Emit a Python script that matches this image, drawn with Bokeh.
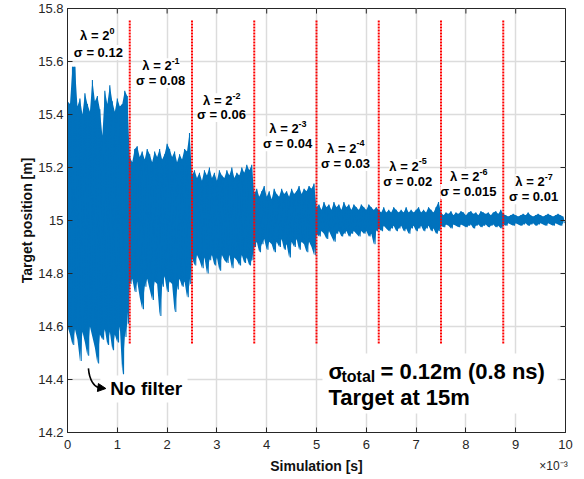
import numpy as np
from bokeh.plotting import figure
from bokeh.models import Label, BoxAnnotation, Arrow, NormalHead, FixedTicker, LinearAxis
from bokeh.embed import file_html
from bokeh.resources import INLINE

# ---------------- data ----------------
sample_step = 0.05  # x10^-3 s between envelope samples
seg_hi = [
    [15.45, 15.44, 15.58, 15.58, 15.43, 15.46, 15.40, 15.48, 15.44, 15.41, 15.53, 15.45, 15.47,
     15.42, 15.32, 15.49, 15.44, 15.51, 15.45, 15.41, 15.46, 15.43, 15.44, 15.49, 15.47],
    [15.24, 15.22, 15.27, 15.28, 15.24, 15.26, 15.23, 15.27, 15.25, 15.22, 15.26, 15.24, 15.27,
     15.23, 15.25, 15.29, 15.27, 15.24, 15.26, 15.22, 15.25, 15.23, 15.27, 15.26, 15.33],
    [15.17, 15.19, 15.16, 15.18, 15.15, 15.19, 15.17, 15.20, 15.16, 15.18, 15.15, 15.19, 15.17,
     15.16, 15.19, 15.17, 15.20, 15.16, 15.18, 15.17, 15.20, 15.18, 15.21, 15.19, 15.21],
    [15.10, 15.12, 15.09, 15.11, 15.13, 15.09, 15.11, 15.08, 15.12, 15.10, 15.09, 15.12, 15.10,
     15.11, 15.09, 15.12, 15.10, 15.11, 15.13, 15.10, 15.12, 15.11, 15.13, 15.12, 15.14],
    [15.05, 15.06, 15.04, 15.07, 15.05, 15.06, 15.04, 15.07, 15.05, 15.06, 15.04, 15.07, 15.05,
     15.06, 15.04, 15.06, 15.05, 15.04, 15.06, 15.05, 15.04, 15.06, 15.05, 15.04, 15.05],
    [15.04, 15.03, 15.05, 15.03, 15.04, 15.03, 15.05, 15.04, 15.03, 15.04, 15.03, 15.05, 15.03,
     15.04, 15.03, 15.04, 15.05, 15.03, 15.04, 15.03, 15.05, 15.04, 15.03, 15.05, 15.07],
    [15.03, 15.02, 15.03, 15.025, 15.035, 15.02, 15.03, 15.025, 15.035, 15.03, 15.02, 15.03, 15.035,
     15.025, 15.03, 15.02, 15.035, 15.03, 15.025, 15.03, 15.02, 15.03, 15.035, 15.025, 15.04],
    [15.025, 15.02, 15.015, 15.02, 15.025, 15.02, 15.015, 15.02, 15.025, 15.02, 15.03, 15.02, 15.015,
     15.02, 15.025, 15.02, 15.015, 15.02, 15.025, 15.02, 15.015, 15.02, 15.025, 15.02, 15.015],
]
seg_lo = [
    [14.60, 14.57, 14.53, 14.59, 14.55, 14.47, 14.58, 14.54, 14.49, 14.60, 14.56, 14.52, 14.46,
     14.57, 14.55, 14.59, 14.53, 14.58, 14.51, 14.57, 14.54, 14.60, 14.42, 14.56, 14.61],
    [14.76, 14.78, 14.73, 14.77, 14.71, 14.665, 14.75, 14.78, 14.74, 14.70, 14.77, 14.76, 14.64,
     14.75, 14.79, 14.73, 14.77, 14.76, 14.655, 14.74, 14.78, 14.75, 14.77, 14.71, 14.76],
    [14.86, 14.83, 14.87, 14.85, 14.82, 14.86, 14.80, 14.85, 14.87, 14.83, 14.86, 14.81, 14.87,
     14.85, 14.84, 14.87, 14.82, 14.86, 14.85, 14.83, 14.87, 14.84, 14.86, 14.83, 14.85],
    [14.90, 14.92, 14.88, 14.91, 14.93, 14.89, 14.92, 14.91, 14.88, 14.92, 14.90, 14.93, 14.89,
     14.91, 14.86, 14.92, 14.90, 14.93, 14.89, 14.92, 14.91, 14.88, 14.92, 14.90, 14.87],
    [14.95, 14.94, 14.96, 14.95, 14.93, 14.96, 14.94, 14.92, 14.95, 14.96, 14.94, 14.95, 14.96,
     14.94, 14.95, 14.96, 14.95, 14.94, 14.96, 14.95, 14.96, 14.94, 14.95, 14.91, 14.96],
    [14.97, 14.96, 14.98, 14.97, 14.96, 14.97, 14.98, 14.96, 14.97, 14.98, 14.96, 14.97, 14.95,
     14.97, 14.98, 14.96, 14.97, 14.98, 14.96, 14.97, 14.98, 14.96, 14.97, 14.95, 14.96],
    [14.98, 14.975, 14.985, 14.98, 14.97, 14.985, 14.98, 14.975, 14.985, 14.98, 14.975, 14.98, 14.985,
     14.97, 14.98, 14.985, 14.975, 14.98, 14.985, 14.975, 14.98, 14.985, 14.975, 14.98, 14.97],
    [14.985, 14.98, 14.99, 14.985, 14.98, 14.99, 14.985, 14.98, 14.985, 14.99, 14.98, 14.985, 14.99,
     14.98, 14.985, 14.99, 14.985, 14.98, 14.99, 14.985, 14.98, 14.99, 14.985, 14.98, 14.99],
]

filter_bounds = [1.25, 2.5, 3.75, 5.0, 6.25, 7.5, 8.75]
bound_bottom = 14.536
bound_top = 15.755

lambda_exp = ["0", "-1", "-2", "-3", "-4", "-5", "-6", "-7"]
sigma_vals = ["0.12", "0.08", "0.06", "0.04", "0.03", "0.02", "0.015", "0.01"]
label_x = [0.62, 1.87, 3.09, 4.42, 5.58, 6.83, 8.05, 9.36]
lambda_y = [15.697, 15.584, 15.452, 15.347, 15.272, 15.204, 15.166, 15.147]
sigma_y = [15.634, 15.528, 15.400, 15.290, 15.215, 15.147, 15.109, 15.090]

x_ticks = [0, 1, 2, 3, 4, 5, 6, 7, 8, 9, 10]
y_ticks = [14.2, 14.4, 14.6, 14.8, 15.0, 15.2, 15.4, 15.6, 15.8]
y_tick_labels = ["14.2", "14.4", "14.6", "14.8", "15", "15.2", "15.4", "15.6", "15.8"]
x_multiplier = "×10⁻³"
x_multiplier_pos = 9.76

# annotation geometry (data coords)
nofilter_box = dict(left=0.66, right=2.41, bottom=14.313, top=14.415)
nofilter_pos = (0.86, 14.366)
arrow_curve = dict(x0=0.42, y0=14.442, cx0=0.44, cy0=14.396, cx1=0.54, cy1=14.374, x1=0.62, y1=14.370)
arrow_head = dict(x_start=0.60, y_start=14.370, x_end=0.77, y_end=14.366)
total_box = dict(left=5.12, right=9.84, bottom=14.272, top=14.498)
total_pos = (5.24, 14.430, 14.332)

# ---------------- figure ----------------
FONT = "Liberation Sans"
AX = "#262626"
BLUE = "#0072BD"
X0, X1, Y0, Y1 = 0, 10, 14.2, 15.8
TICK_DX, TICK_DY = 0.1, 0.019  # 5 px inward ticks on the right / top frame edges

p = figure(width=584, height=479, x_range=(X0, X1), y_range=(Y0, Y1),
           output_backend="svg", toolbar_location=None,
           min_border_left=67, min_border_right=19, min_border_top=8, min_border_bottom=47)
p.background_fill_color = "white"
p.border_fill_color = "white"
p.outline_line_color = AX
p.outline_line_width = 1

# noisy signal: solid band plus trace oscillating between the read extremes
hi = np.concatenate([np.array(s) for s in seg_hi])
lo = np.concatenate([np.array(s) for s in seg_lo])
t = np.arange(len(hi)) * sample_step
p.varea(x=t, y1=lo, y2=hi, fill_color=BLUE, fill_alpha=1)
sig_x = np.empty(2 * len(hi))
sig_y = np.empty(2 * len(hi))
sig_x[0::2] = t
sig_x[1::2] = t + sample_step / 2
sig_y[0::2] = hi
sig_y[1::2] = lo
p.line(x=sig_x, y=sig_y, line_color=BLUE, line_width=1.1)

# red dotted filter boundaries
p.segment(x0=filter_bounds, y0=[bound_bottom] * len(filter_bounds),
          x1=filter_bounds, y1=[bound_top] * len(filter_bounds),
          line_color="#ff0000", line_width=2, line_dash="2 1")

# axes
for ax in (p.xaxis[0], p.yaxis[0]):
    ax.major_tick_in = 5
    ax.major_tick_out = 0
    ax.minor_tick_line_color = None
    ax.axis_line_color = AX
    ax.major_tick_line_color = AX
    ax.major_label_text_font = FONT
    ax.major_label_text_font_size = "13px"
    ax.major_label_text_color = AX
    ax.axis_label_text_font = FONT
    ax.axis_label_text_font_style = "bold"
    ax.axis_label_text_font_size = "14px"
    ax.axis_label_text_color = "#111111"

p.xaxis.ticker = FixedTicker(ticks=x_ticks)
p.yaxis.ticker = FixedTicker(ticks=y_ticks)
p.yaxis.major_label_overrides = dict(zip(y_ticks, y_tick_labels))
p.xaxis.axis_label = "Simulation [s]"
p.yaxis.axis_label = "Target position [m]"
p.xaxis.major_label_standoff = 7
p.yaxis.major_label_standoff = 4
p.xaxis.axis_label_standoff = 6
p.yaxis.axis_label_standoff = 0

# exponent multiplier under the right end of the x axis (tick-label of a bare axis)
mult_ax = LinearAxis(ticker=FixedTicker(ticks=[x_multiplier_pos]),
                     major_label_overrides={x_multiplier_pos: x_multiplier})
mult_ax.axis_line_color = None
mult_ax.major_tick_line_color = None
mult_ax.minor_tick_line_color = None
mult_ax.major_tick_in = 0
mult_ax.major_tick_out = 0
mult_ax.major_label_text_font = FONT
mult_ax.major_label_text_font_size = "12px"
mult_ax.major_label_text_color = AX
try:
    mult_ax.major_label_standoff = -18
except Exception:
    mult_ax.major_label_standoff = 0
p.add_layout(mult_ax, "below")

# inward ticks on the right and top edges of the box
p.segment(x0=[X1] * len(y_ticks), x1=[X1 - TICK_DX] * len(y_ticks), y0=y_ticks, y1=y_ticks,
          line_color=AX, line_width=1)
p.segment(x0=x_ticks, x1=x_ticks, y0=[Y1] * len(x_ticks), y1=[Y1 - TICK_DY] * len(x_ticks),
          line_color=AX, line_width=1)

p.xgrid.ticker = FixedTicker(ticks=x_ticks)
p.ygrid.ticker = FixedTicker(ticks=y_ticks)
for g in (p.xgrid[0], p.ygrid[0]):
    g.grid_line_color = "#dcdcdc"
    g.grid_line_width = 1.5

# lambda / sigma labels
for i in range(len(label_x)):
    p.add_layout(Label(x=label_x[i], y=lambda_y[i], x_offset=11, text="λ = 2",
                       text_align="right", text_baseline="middle", text_font=FONT,
                       text_font_style="bold", text_font_size="13px", text_color="black",
                       background_fill_color="white"))
    p.add_layout(Label(x=label_x[i], y=lambda_y[i], x_offset=11, y_offset=5, text=lambda_exp[i],
                       text_align="left", text_baseline="middle", text_font=FONT,
                       text_font_style="bold", text_font_size="9px", text_color="black",
                       background_fill_color="white"))
    p.add_layout(Label(x=label_x[i], y=sigma_y[i], text="σ = " + sigma_vals[i],
                       text_align="center", text_baseline="middle", text_font=FONT,
                       text_font_style="bold", text_font_size="13px", text_color="black",
                       background_fill_color="white"))

# "No filter"
p.add_layout(BoxAnnotation(fill_color="white", fill_alpha=1, line_alpha=0, **nofilter_box))
p.add_layout(Label(x=nofilter_pos[0], y=nofilter_pos[1], text="No filter", text_align="left",
                   text_baseline="middle", text_font=FONT, text_font_style="bold",
                   text_font_size="19px", text_color="black"))
p.bezier(line_color="black", line_width=1.6, **{k: [v] for k, v in arrow_curve.items()})
p.add_layout(Arrow(end=NormalHead(size=8, fill_color="black", line_color="black"),
                   line_color="black", line_width=1.6, **arrow_head))

# sigma total box
p.add_layout(BoxAnnotation(fill_color="white", fill_alpha=1, line_alpha=0, **total_box))
tx, ty1, ty2 = total_pos
for txt, xo, yo, fs in (("σ", 0, 0, "22px"), ("total", 13, -5, "16px"),
                        ("= 0.12m (0.8 ns)", 52, 0, "22px")):
    p.add_layout(Label(x=tx, y=ty1, x_offset=xo, y_offset=yo, text=txt, text_align="left",
                       text_baseline="middle", text_font=FONT, text_font_style="bold",
                       text_font_size=fs, text_color="black"))
p.add_layout(Label(x=tx, y=ty2, text="Target at 15m", text_align="left", text_baseline="middle",
                   text_font=FONT, text_font_style="bold", text_font_size="22px",
                   text_color="black"))

open("out.html", "w").write(file_html(p, INLINE))
